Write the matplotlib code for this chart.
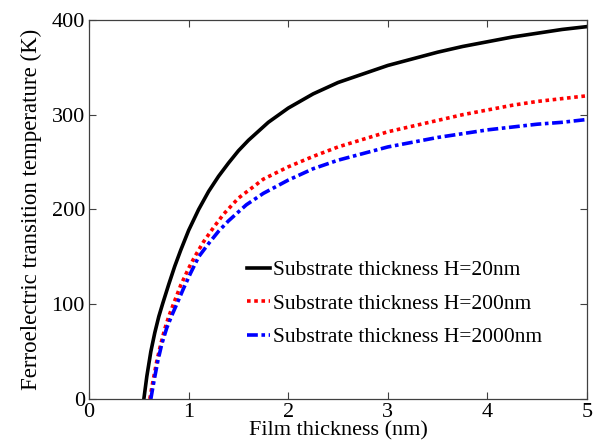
import matplotlib
matplotlib.use("Agg")
import matplotlib.pyplot as plt

# film thickness (nm) vs transition temperature (K)
h20_x = [0.55, 0.58, 0.62, 0.66, 0.70, 0.74, 0.80, 0.86, 0.92, 1.0, 1.1, 1.2,
         1.3, 1.4, 1.5, 1.6, 1.8, 2.0, 2.25, 2.5, 2.75, 3.0, 3.25, 3.5, 3.75,
         4.0, 4.25, 4.5, 4.75, 5.0]
h20_y = [0, 24, 50, 70, 87, 101, 121, 140, 157, 178, 200, 219,
         235, 249, 262, 273, 292, 307, 322, 334, 343, 352, 359, 366, 372,
         377, 382, 386, 390, 393]

h200_x = [0.61, 0.64, 0.68, 0.72, 0.76, 0.80, 0.85, 0.92, 1.0, 1.06, 1.15, 1.25,
          1.35, 1.5, 1.75, 2.0, 2.25, 2.5, 2.75, 3.0, 3.25, 3.5, 3.75, 4.0,
          4.25, 4.5, 4.75, 5.0]
h200_y = [0, 18, 40, 58, 74, 87, 101, 120, 138, 150, 166, 181,
          195, 212, 232, 245, 256, 266, 274, 282, 288, 294, 300, 305,
          310, 314, 317, 320]

h2000_x = [0.62, 0.65, 0.69, 0.73, 0.78, 0.83, 0.88, 0.95, 1.02, 1.10, 1.2, 1.3,
           1.4, 1.58, 1.75, 2.0, 2.25, 2.5, 2.75, 3.0, 3.25, 3.5, 3.75, 4.0,
           4.25, 4.5, 4.75, 5.0]
h2000_y = [0, 18, 40, 58, 75, 88, 100, 117, 133, 150, 164, 177,
           188, 205, 217, 231, 243, 252, 259, 266, 271, 276, 280, 284,
           287, 290, 292, 295]

labels = ["Substrate thickness H=20nm",
          "Substrate thickness H=200nm",
          "Substrate thickness H=2000nm"]

plt.rcParams['font.family'] = ['Liberation Serif', 'DejaVu Serif']

fig = plt.figure(figsize=(6.02, 4.44), dpi=100)
ax = fig.add_axes([0.148, 0.1014, 0.827, 0.8536])

ax.plot(h20_x, h20_y, color='black', lw=2.6, label=labels[0])
ax.plot(h200_x, h200_y, color='#ff0000', lw=2.6, linestyle=(0, (1, 1)),
        dash_capstyle='butt', label=labels[1])
ax.plot(h2000_x, h2000_y, color='#0000ff', lw=2.6, linestyle=(0, (3, 1, 1, 1)),
        dash_capstyle='butt', label=labels[2])

ax.set_xlim(0, 5)
ax.set_ylim(0, 400)
ax.set_xticks([0, 1, 2, 3, 4, 5])
ax.set_yticks([0, 100, 200, 300, 400])
ax.tick_params(direction='in', top=True, right=True, length=5, width=0.8,
               color='#404040', labelsize=16, pad=3)
for s in ax.spines.values():
    s.set_color('#404040')
    s.set_linewidth(0.9)

ax.set_xlabel("Film thickness (nm)", fontsize=16, labelpad=-1)
ax.set_ylabel("Ferroelectric transition temperature (K)", fontsize=16.5, labelpad=7)

ax.legend(loc='upper left', bbox_to_anchor=(0.317, 0.366), frameon=False,
          fontsize=15.5, handlelength=1.07, handletextpad=0.15, labelspacing=0.62,
          borderpad=0, borderaxespad=0)

fig.savefig("out.png", dpi=100)
